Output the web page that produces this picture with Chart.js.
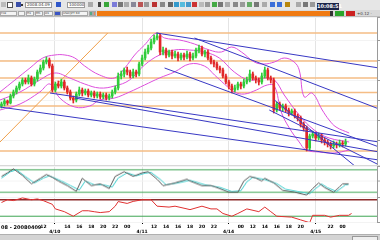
<!DOCTYPE html>
<html>
<head>
<meta charset="utf-8">
<script src="https://cdn.jsdelivr.net/npm/chart.js@4/dist/chart.umd.min.js"></script>
<style>
  html, body { margin: 0; padding: 0; width: 380px; height: 240px; overflow: hidden; background: #fff; font-family: "DejaVu Sans", sans-serif; }
  .abs { position: absolute; }
  #tb { left: 0; top: 0; width: 380px; height: 10px; background: #e6e6e6; }
  #tabs { left: 0; top: 10px; width: 380px; height: 7px; background: #d9d9d9; border-bottom: 1px solid #bcbcbc; box-sizing: border-box; }
  .ic { position: absolute; top: 2px; width: 5px; height: 5px; }
  .box { position: absolute; top: 2px; height: 6px; background: #fff; border: 1px solid #9a9a9a; box-sizing: border-box; font-size: 4px; line-height: 4px; color: #333; padding-left: 1px; white-space: nowrap; overflow: hidden; }
  .tab { position: absolute; top: 1px; height: 5px; background: #f4f4f4; border: 1px solid #a8a8a8; box-sizing: border-box; font-size: 3px; line-height: 3px; color: #333; white-space: nowrap; overflow: hidden; }
  canvas { position: absolute; left: 0; }
  #osc1 { border-top: 1px solid #d8d8d8; }
  #scroll { left: 0; top: 234px; width: 380px; height: 6px; background: #d4d4d4; border-top: 1px solid #b0b0b0; box-sizing: border-box; }
</style>
</head>
<body>
<div id="tb" class="abs">
  <span class="ic" style="left:1px;background:#bbb"></span>
  <span class="ic" style="left:7px;background:#fff;border:1px solid #555;width:4px;height:4px"></span>
  <span class="ic" style="left:16px;background:#3a4fa8"></span>
  <span class="ic" style="left:21px;top:4px;width:2px;height:2px;background:#333"></span>
  <span class="box" style="left:25px;width:27px">2008.04.09 12</span>
  <span class="ic" style="left:56px;background:#2f57c9"></span>
  <span class="box" style="left:67px;width:18px">100000</span>
  <span class="ic" style="left:88px;background:#aaa"></span>
  <span class="ic" style="left:98px;background:#444;width:3px"></span>
  <span class="ic" style="left:104px;background:#39a639"></span>
  <span class="ic" style="left:112px;background:#7b7bd8"></span>
  <span class="ic" style="left:118px;background:#777"></span>
  <span class="ic" style="left:124px;background:#aaa"></span>
  <span class="ic" style="left:131px;background:#889"></span>
  <span class="ic" style="left:138px;background:#b55"></span>
  <span class="ic" style="left:144px;background:#999"></span>
  <span class="ic" style="left:152px;background:#b33"></span>
  <span class="ic" style="left:160px;background:#888"></span>
  <span class="ic" style="left:168px;background:#666"></span>
  <span class="ic" style="left:174px;background:#39c"></span>
  <span class="ic" style="left:180px;background:#5bd"></span>
  <span class="ic" style="left:186px;background:#49c"></span>
  <span class="ic" style="left:192px;background:#c33"></span>
  <span class="ic" style="left:199px;background:#bbb"></span>
  <span class="ic" style="left:205px;background:#999"></span>
  <span class="ic" style="left:212px;background:#4a4"></span>
  <span class="ic" style="left:218px;background:#777"></span>
  <span class="ic" style="left:225px;background:#aaa"></span>
  <span class="ic" style="left:233px;background:#888"></span>
  <span class="ic" style="left:240px;background:#999"></span>
  <span class="ic" style="left:247px;background:#6a6"></span>
  <span class="ic" style="left:254px;background:#777"></span>
  <span class="ic" style="left:262px;background:#aaa"></span>
  <span class="ic" style="left:270px;background:#3c6fd9"></span>
  <span class="ic" style="left:277px;background:#3c6fd9"></span>
  <span class="ic" style="left:285px;background:#b8860b"></span>
  <span class="ic" style="left:296px;background:#aaa"></span>
  <span class="ic" style="left:303px;background:#777"></span>
  <span class="ic" style="left:310px;background:#999"></span>
  <span class="abs" style="left:317px;top:3px;width:22px;height:7px;background:#1b2448;color:#fff;font-size:5px;line-height:7px;text-align:center;font-weight:bold">10:08:51</span>
</div>
<div id="tabs" class="abs">
  <span class="tab" style="left:0;width:17px">File</span>
  <span class="tab" style="left:18px;width:7px"></span>
  <span class="tab" style="left:26px;width:8px">H1</span>
  <span class="tab" style="left:35px;width:8px">M5</span>
  <span class="tab" style="left:44px;width:9px">D1</span>
  <span class="tab" style="left:54px;width:7px;background:#3b55c4"></span>
  <span class="tab" style="left:62px;width:26px">USD/JPY 60</span>
  <span class="tab" style="left:89px;width:4px;background:#5a8"></span>
  <span class="tab" style="left:93px;width:3px;background:#e85"></span>
  <span class="abs" style="left:97px;top:1px;width:233px;height:5px;background:#f07a12"></span>
  <span class="abs" style="left:330px;top:1px;width:3px;height:5px;background:#333"></span>
  <span class="abs" style="left:335px;top:1px;width:9px;height:5px;background:#2aa52a"></span>
  <span class="abs" style="left:346px;top:1px;width:9px;height:5px;background:#cc2222"></span>
  <span class="abs" style="left:357px;top:1px;font-size:4px;line-height:5px;color:#444">+0.12 ·</span>
</div>

<canvas id="main" width="380" height="148" style="top:17px"></canvas>
<canvas id="osc1" width="380" height="32" style="top:165px"></canvas>
<canvas id="osc2" width="380" height="37" style="top:197px"></canvas>
<span class="abs" style="left:1px;top:225px;font-size:5px;line-height:5px;color:#000;background:#fff;font-weight:bold">08 - 20080409</span>
<div id="scroll" class="abs"><span class="abs" style="left:352px;top:1px;width:24px;height:3px;background:#eee;border:1px solid #999"></span></div>

<script>
// candles (price), one per bar
const opens = [139.4, 139.6, 139.9, 139.7, 140.4, 140.8, 141.2, 141.6, 142.0, 141.8, 142.2, 141.6, 142.1, 142.8, 143.2, 143.8, 144.0, 143.4, 141.0, 141.6,
  141.4, 141.8, 141.2, 140.8, 140.2, 140.0, 140.6, 141.0, 140.7, 140.9, 140.5, 140.7, 140.4, 140.6, 140.3, 140.5, 140.2, 140.4, 140.8, 141.2,
  142.4, 142.6, 143.0, 142.8, 142.4, 142.8, 142.6, 143.6, 144.2, 144.8, 145.2, 145.8, 146.2, 146.4, 144.8, 145.0, 144.5, 144.8, 144.4, 144.6,
  144.2, 144.5, 144.3, 144.6, 144.2, 144.4, 145.0, 145.2, 144.6, 144.8, 144.2, 143.8, 143.6, 143.2, 143.0, 142.4, 141.8, 141.4, 141.0, 141.2,
  141.6, 141.4, 141.8, 142.0, 142.6, 142.2, 142.0, 141.8, 142.4, 143.0, 142.2, 142.0, 139.0, 139.6, 139.2, 139.4, 139.0, 138.7, 138.9, 138.4,
  138.2, 137.6, 137.2, 135.2, 136.4, 136.6, 136.2, 136.4, 136.0, 135.8, 135.6, 135.4, 135.6, 135.5, 135.7, 135.6];
const closes = [139.6, 139.9, 139.7, 140.4, 140.8, 141.2, 141.6, 142.0, 141.8, 142.2, 141.6, 142.1, 142.8, 143.2, 143.8, 144.0, 143.4, 141.0, 141.6, 141.4,
  141.8, 141.2, 140.8, 140.2, 140.0, 140.6, 141.0, 140.7, 140.9, 140.5, 140.7, 140.4, 140.6, 140.3, 140.5, 140.2, 140.4, 140.8, 141.2, 142.4,
  142.6, 143.0, 142.8, 142.4, 142.8, 142.6, 143.6, 144.2, 144.8, 145.2, 145.8, 146.2, 146.4, 144.8, 145.0, 144.5, 144.8, 144.4, 144.6, 144.2,
  144.5, 144.3, 144.6, 144.2, 144.4, 145.0, 145.2, 144.6, 144.8, 144.2, 143.8, 143.6, 143.2, 143.0, 142.4, 141.8, 141.4, 141.0, 141.2, 141.6,
  141.4, 141.8, 142.0, 142.6, 142.2, 142.0, 141.8, 142.4, 143.0, 142.2, 142.0, 139.0, 139.6, 139.2, 139.4, 139.0, 138.7, 138.9, 138.4, 138.2,
  137.6, 137.2, 135.2, 136.4, 136.6, 136.2, 136.4, 136.0, 135.8, 135.6, 135.4, 135.6, 135.5, 135.7, 135.6, 135.8];
const highs = [139.8, 140.1, 140.0, 140.6, 141.0, 141.4, 141.8, 142.2, 142.2, 142.5, 142.4, 142.3, 143.0, 143.5, 144.0, 144.3, 144.2, 143.6, 141.8, 141.9,
  142.1, 142.0, 141.4, 141.0, 140.4, 140.8, 141.3, 141.2, 141.1, 141.1, 140.9, 140.9, 140.8, 140.8, 140.7, 140.7, 140.6, 141.0, 141.4, 142.7,
  142.9, 143.2, 143.3, 143.0, 143.1, 143.0, 143.8, 144.5, 145.1, 145.5, 146.1, 146.5, 146.7, 146.6, 145.3, 145.2, 145.0, 145.0, 144.9, 144.8,
  144.7, 144.7, 144.9, 144.8, 144.7, 145.2, 145.5, 145.4, 145.0, 145.0, 144.4, 144.0, 143.8, 143.4, 143.2, 142.6, 142.0, 141.6, 141.5, 141.8,
  141.8, 142.1, 142.3, 143.0, 142.8, 142.4, 142.2, 142.7, 143.3, 143.2, 142.4, 142.2, 139.8, 139.8, 139.6, 139.6, 139.2, 139.1, 139.1, 138.6,
  138.4, 137.8, 137.4, 136.6, 136.9, 136.8, 136.7, 136.6, 136.2, 136.0, 135.8, 135.9, 135.8, 136.0, 135.9, 136.1];
const lows = [139.2, 139.4, 139.5, 139.6, 140.2, 140.6, 141.0, 141.4, 141.6, 141.6, 141.4, 141.4, 141.9, 142.6, 143.0, 143.6, 143.2, 140.8, 140.8, 141.2,
  141.2, 141.0, 140.6, 140.0, 139.7, 139.8, 140.4, 140.4, 140.5, 140.3, 140.3, 140.2, 140.2, 140.1, 140.1, 140.0, 140.0, 140.2, 140.6, 141.0,
  142.1, 142.3, 142.5, 142.2, 142.2, 142.3, 142.4, 143.4, 144.0, 144.6, 145.0, 145.6, 146.0, 144.5, 144.5, 144.2, 144.3, 144.1, 144.2, 143.9,
  144.0, 144.0, 144.1, 143.9, 144.0, 144.2, 144.7, 144.4, 144.3, 144.0, 143.6, 143.3, 143.0, 142.7, 142.2, 141.6, 141.1, 140.7, 140.8, 141.0,
  141.1, 141.2, 141.6, 141.8, 142.0, 141.7, 141.5, 141.6, 142.2, 142.0, 141.7, 138.7, 138.8, 139.0, 138.9, 138.8, 138.4, 138.5, 138.2, 137.9,
  137.3, 136.9, 134.9, 135.0, 136.2, 135.9, 136.0, 135.7, 135.5, 135.3, 135.1, 135.2, 135.2, 135.3, 135.3, 135.4];

// bollinger-type bands, read at sample bars
const upperBand = [{x: -0.5, y: 140.8}, {x: 4.5, y: 142.0}, {x: 9.5, y: 143.2}, {x: 13.8, y: 144.2}, {x: 17.8, y: 144.5}, {x: 21.2, y: 144.5},
  {x: 24.5, y: 144.2}, {x: 27.8, y: 143.4}, {x: 32.8, y: 142.5}, {x: 37.8, y: 142.2}, {x: 41.2, y: 143.2}, {x: 44.5, y: 144.5},
  {x: 47.8, y: 145.5}, {x: 51.8, y: 146.7}, {x: 54.5, y: 146.2}, {x: 59.5, y: 146.0}, {x: 64.5, y: 145.6}, {x: 69.5, y: 145.0},
  {x: 73.5, y: 144.8}, {x: 76.8, y: 145.3}, {x: 80.2, y: 144.8}, {x: 84.5, y: 143.8}, {x: 87.8, y: 143.6}, {x: 91.2, y: 143.8},
  {x: 94.5, y: 144.2}, {x: 97.8, y: 143.8}, {x: 99.5, y: 143.0}, {x: 101.2, y: 140.3}, {x: 103.8, y: 140.7}, {x: 107.2, y: 139.0},
  {x: 109.5, y: 138.0}, {x: 111.8, y: 137.3}, {x: 116.2, y: 136.7}];
const midBand = [{x: -0.5, y: 140.0}, {x: 6.2, y: 140.8}, {x: 12.8, y: 142.0}, {x: 17.8, y: 142.7}, {x: 22.8, y: 142.2}, {x: 27.8, y: 141.6},
  {x: 32.8, y: 141.2}, {x: 37.8, y: 141.4}, {x: 42.8, y: 142.0}, {x: 47.8, y: 143.5}, {x: 52.8, y: 144.5}, {x: 57.8, y: 145.0},
  {x: 62.8, y: 145.0}, {x: 67.8, y: 144.8}, {x: 72.8, y: 144.2}, {x: 77.8, y: 142.8}, {x: 82.8, y: 142.0}, {x: 87.8, y: 142.2},
  {x: 91.2, y: 142.0}, {x: 94.5, y: 140.5}, {x: 99.5, y: 138.5}, {x: 104.5, y: 137.0}, {x: 109.5, y: 136.2}, {x: 116.2, y: 135.8}];
const lowerBand = [{x: -0.5, y: 139.0}, {x: 6.2, y: 139.6}, {x: 12.8, y: 140.8}, {x: 16.2, y: 141.6}, {x: 19.5, y: 140.2}, {x: 24.5, y: 139.3},
  {x: 29.5, y: 139.4}, {x: 32.8, y: 140.0}, {x: 37.8, y: 140.2}, {x: 42.8, y: 140.8}, {x: 47.8, y: 141.5}, {x: 52.8, y: 142.2},
  {x: 57.8, y: 142.8}, {x: 62.8, y: 143.6}, {x: 67.8, y: 143.4}, {x: 71.2, y: 142.5}, {x: 74.5, y: 141.6}, {x: 77.8, y: 140.8},
  {x: 81.2, y: 140.6}, {x: 85.2, y: 141.0}, {x: 88.8, y: 141.5}, {x: 91.2, y: 141.4}, {x: 93.5, y: 138.8}, {x: 96.2, y: 137.2},
  {x: 99.5, y: 135.8}, {x: 101.8, y: 135.0}, {x: 106.2, y: 134.8}, {x: 111.2, y: 134.7}, {x: 116.2, y: 135.0}];

// drawn objects
const priceLevels = [146.7, 143.9, 142.2, 140.75, 139.4, 134.9];
const gannLine = [{x: -0.5, y: 135.8}, {x: 35.5, y: 146.7}];
const trendLines = [
  [{x: 51.8, y: 146.7}, {x: 126.2, y: 143.2}],
  [{x: 64.5, y: 146.2}, {x: 126.2, y: 139.1}],
  [{x: 54.5, y: 143.2}, {x: 126.2, y: 135.3}],
  [{x: -0.5, y: 139.3}, {x: 126.2, y: 134.0}],
  [{x: 16.2, y: 140.7}, {x: 126.2, y: 135.8}],
  [{x: 24.5, y: 140.2}, {x: 126.2, y: 134.8}],
  [{x: 91.2, y: 140.0}, {x: 118.5, y: 133.3}],
  [{x: 89.5, y: 139.0}, {x: 126.2, y: 133.5}],
];

// stochastic %K / %D
const stochK = [{x: 0, y: 62.5}, {x: 2, y: 72}, {x: 4, y: 82.5}, {x: 7, y: 65}, {x: 10, y: 42.5}, {x: 13, y: 57.5}, {x: 15, y: 67.5},
  {x: 17, y: 60}, {x: 19, y: 50}, {x: 22, y: 37.5}, {x: 25, y: 22.5}, {x: 27, y: 57.5}, {x: 30, y: 37.5}, {x: 33, y: 42.5},
  {x: 36, y: 30}, {x: 38, y: 62.5}, {x: 41, y: 75}, {x: 44, y: 62.5}, {x: 47, y: 72}, {x: 49, y: 75}, {x: 52, y: 55},
  {x: 54, y: 37.5}, {x: 58, y: 45}, {x: 62, y: 55}, {x: 63, y: 50}, {x: 67, y: 37.5}, {x: 70, y: 38}, {x: 72, y: 32.5},
  {x: 76, y: 20}, {x: 79, y: 20}, {x: 81, y: 50}, {x: 83, y: 62.5}, {x: 85, y: 58}, {x: 87, y: 50}, {x: 88, y: 57.5},
  {x: 91, y: 45}, {x: 94, y: 25}, {x: 98, y: 20}, {x: 102, y: 12.5}, {x: 104, y: 30}, {x: 106, y: 45}, {x: 108, y: 32.5},
  {x: 111, y: 20}, {x: 113, y: 35}, {x: 114, y: 42.5}, {x: 116, y: 42.5}];
const stochD = [{x: 0, y: 58}, {x: 3, y: 75}, {x: 5, y: 80}, {x: 8, y: 62}, {x: 11, y: 45}, {x: 14, y: 58}, {x: 16, y: 64},
  {x: 20, y: 50}, {x: 23, y: 38}, {x: 26, y: 26}, {x: 28, y: 50}, {x: 31, y: 40}, {x: 34, y: 40}, {x: 37, y: 34},
  {x: 39, y: 58}, {x: 42, y: 72}, {x: 45, y: 64}, {x: 48, y: 71}, {x: 50, y: 73}, {x: 53, y: 55}, {x: 55, y: 40},
  {x: 59, y: 45}, {x: 63, y: 52}, {x: 68, y: 40}, {x: 73, y: 33}, {x: 77, y: 22}, {x: 80, y: 24}, {x: 82, y: 48},
  {x: 84, y: 60}, {x: 88, y: 54}, {x: 92, y: 43}, {x: 95, y: 28}, {x: 99, y: 22}, {x: 103, y: 16}, {x: 105, y: 30},
  {x: 107, y: 42}, {x: 109, y: 32}, {x: 112, y: 22}, {x: 115, y: 40}, {x: 116, y: 41}];
const stochLevels = [80, 20];

// rsi
const rsiLine = [{x: 0, y: 63.3}, {x: 2, y: 70}, {x: 4, y: 68}, {x: 7, y: 74.4}, {x: 10, y: 70}, {x: 12, y: 72}, {x: 14, y: 67.8},
  {x: 17, y: 58.9}, {x: 18, y: 47.8}, {x: 21, y: 41.1}, {x: 24, y: 30}, {x: 27, y: 43.3}, {x: 29, y: 43.3}, {x: 31, y: 41},
  {x: 33, y: 38.9}, {x: 36, y: 41.1}, {x: 38, y: 54.4}, {x: 39, y: 65.6}, {x: 42, y: 61.1}, {x: 44, y: 66}, {x: 47, y: 70},
  {x: 50, y: 70}, {x: 52, y: 54.4}, {x: 56, y: 52.2}, {x: 58, y: 54.4}, {x: 62, y: 47.8}, {x: 63, y: 46}, {x: 67, y: 54.4},
  {x: 70, y: 47.8}, {x: 72, y: 47.8}, {x: 74, y: 36.7}, {x: 77, y: 30}, {x: 79, y: 36.7}, {x: 82, y: 47.8}, {x: 86, y: 41.1},
  {x: 88, y: 52.2}, {x: 90, y: 41.1}, {x: 92, y: 30}, {x: 97, y: 27.8}, {x: 100, y: 21.1}, {x: 103, y: 14.4}, {x: 104, y: 32.2},
  {x: 108, y: 32.2}, {x: 110, y: 27.8}, {x: 113, y: 32.2}, {x: 116, y: 32.2}, {x: 117, y: 36.7}];
const rsiLevels = [70, 30];

// time axis
const dayTicks = [17.8, 47, 75.9, 105];
const dayLabels = ['4/10', '4/11', '4/14', '4/15'];
const hourTicks = [14, 22, 26, 30, 34, 38, 42, 51, 55, 59, 63, 67, 71, 80, 84, 88, 92, 96, 100, 110, 114];
const hourLabels = ['12', '14', '16', '18', '20', '22', '00'];

const GREEN = '#2fcc3a';
const RED = '#e02828';
const X_MIN = -0.5;
const X_MAX = 125.5;

function hline(v, color, width, order) {
  return { type: 'line', data: [{ x: X_MIN, y: v }, { x: X_MAX, y: v }], borderColor: color, borderWidth: width, pointRadius: 0, order };
}

function curve(data, color, order, tension) {
  return { type: 'line', data, borderColor: color, borderWidth: 1, pointRadius: 0, tension: tension || 0, order };
}

function xScale(extra) {
  return Object.assign({
    type: 'linear',
    min: X_MIN,
    max: X_MAX,
    offset: false,
    border: { display: false },
    grid: { color: '#e4e4e4', drawTicks: false, offset: false },
    ticks: { display: false },
    afterBuildTicks: (s) => { s.ticks = dayTicks.map((v) => ({ value: v })); },
    afterFit: (s) => { s.height = 0; },
  }, extra || {});
}

function yScale(min, max) {
  return {
    position: 'right',
    min,
    max,
    border: { display: true, color: '#9a9a9a' },
    grid: { color: '#f3f3f3', tickLength: 3, tickColor: '#9a9a9a' },
    ticks: { display: false },
    afterFit: (s) => { s.width = 3; },
  };
}

const baseOptions = {
  animation: false,
  responsive: false,
  events: [],
  layout: { padding: 0 },
  plugins: { legend: { display: false }, tooltip: { enabled: false } },
};

const candleColors = closes.map((c, i) => (c >= opens[i] ? GREEN : RED));
const bodies = closes.map((c, i) => ({ x: i, y: [opens[i], c] }));
const wicks = closes.map((c, i) => ({ x: i, y: [lows[i], highs[i]] }));

new Chart(document.getElementById('main'), {
  type: 'bar',
  data: {
    datasets: [
      ...priceLevels.map((v) => hline(v, '#f5bd85', 1.5, 20)),
      curve(gannLine, '#f0a04b', 19),
      curve(upperBand, '#dd4fdd', 8, 0.4),
      curve(midBand, '#dd4fdd', 8, 0.4),
      curve(lowerBand, '#dd4fdd', 8, 0.4),
      { type: 'bar', data: wicks, backgroundColor: candleColors, barThickness: 1, grouped: false, order: 5 },
      { type: 'bar', data: bodies, backgroundColor: candleColors, barThickness: 2, grouped: false, minBarLength: 1, order: 4 },
      ...trendLines.map((seg) => curve(seg, '#3838c4', 1)),
    ],
  },
  options: Object.assign({}, baseOptions, { scales: { x: xScale(), y: yScale(133.5, 148.3) } }),
});

new Chart(document.getElementById('osc1'), {
  type: 'line',
  data: {
    datasets: [
      ...stochLevels.map((v) => hline(v, '#3da653', 1, 10)),
      curve(stochD, '#38cccc', 3),
      curve(stochK, '#5a5a5a', 2),
    ],
  },
  options: Object.assign({}, baseOptions, { scales: { x: xScale(), y: yScale(7.5, 90) } }),
});

// one bottom axis: hours on the first row, dates with tick marks on the second
const axisTicks = hourTicks.concat(dayTicks).sort((a, b) => a - b);
new Chart(document.getElementById('osc2'), {
  type: 'line',
  data: {
    datasets: [
      hline(rsiLevels[0], '#8c2a2a', 1.5, 10),
      hline(rsiLevels[1], '#3da653', 1, 10),
      curve(rsiLine, '#e03030', 2),
    ],
  },
  options: Object.assign({}, baseOptions, {
    scales: {
      x: xScale({ weight: 0 }),
      xd: xScale({
        weight: 1,
        grid: { display: true, drawOnChartArea: false, drawTicks: true, tickLength: 2, offset: false,
          tickColor: (ctx) => (dayTicks.includes(ctx.tick && ctx.tick.value) ? '#000' : 'rgba(0,0,0,0)') },
        ticks: { display: true, autoSkip: false, maxRotation: 0, padding: 0, color: '#000',
          font: { size: 4.5, weight: 'bold', family: 'DejaVu Sans', lineHeight: 1.1 },
          callback: (v) => {
            const d = dayTicks.indexOf(v);
            if (d >= 0) return ['', dayLabels[d]];
            return hourLabels[hourTicks.indexOf(v) % hourLabels.length];
          } },
        afterBuildTicks: (s) => { s.ticks = axisTicks.map((v) => ({ value: v })); },
        afterFit: (s) => { s.height = 12; },
      }),
      y: yScale(16, 76.7),
    },
  }),
});
</script>
</body>
</html>
